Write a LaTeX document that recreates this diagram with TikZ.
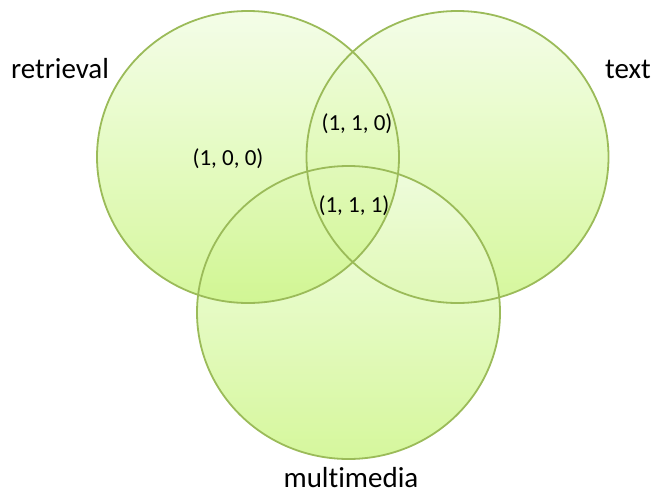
\documentclass[tikz,border=0pt]{standalone}
\usepackage{fontspec}
\setmainfont{Carlito}[Ligatures={NoCommon,NoRare,NoContextual}]
\definecolor{vtop}{RGB}{242,253,228}
\definecolor{vbot}{RGB}{206,246,139}
\definecolor{vedge}{RGB}{155,187,89}
\begin{document}
\begin{tikzpicture}[x=1pt,y=-1pt,
  setfill/.style={top color=vtop, bottom color=vbot, fill opacity=0.85},
  setedge/.style={draw=vedge, line width=1.8pt},
  setname/.style={font=\fontsize{29}{33}\selectfont, anchor=base, inner sep=0pt},
  region/.style={font=\fontsize{23}{27}\selectfont, anchor=base, inner sep=0pt}]
\useasboundingbox (0,0) rectangle (652,495);

% centres and radii of the three sets
\coordinate (cR) at (248,157);
\coordinate (cT) at (457.5,157);
\coordinate (cM) at (348.5,312.5);

% fills, back to front
\shade[setfill] (cT) ellipse [x radius=151, y radius=146];
\shade[setfill] (cM) ellipse [x radius=151.5, y radius=146.5];
\shade[setfill] (cR) ellipse [x radius=151, y radius=146];

% outlines on top
\draw[setedge] (cT) ellipse [x radius=151, y radius=146];
\draw[setedge] (cM) ellipse [x radius=151.5, y radius=146.5];
\draw[setedge] (cR) ellipse [x radius=151, y radius=146];

% set names
\node[setname] (lblR) at (60,78) {retrieval};
\node[setname] (lblT) at (628,78) {text};
\node[setname] (lblM) at (351,487) {mult\kern0pt imedia};

% region labels
\node[region] (r100) at (228,165) {(1, 0, 0)};
\node[region] (r110) at (357,130) {(1, 1, 0)};
\node[region] (r111) at (354,212) {(1, 1, 1)};
\end{tikzpicture}
\end{document}
